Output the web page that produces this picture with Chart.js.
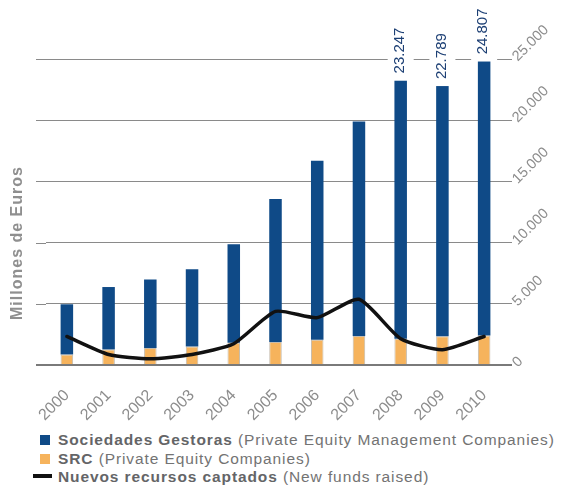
<!DOCTYPE html>
<html>
<head>
<meta charset="utf-8">
<script src="https://cdn.jsdelivr.net/npm/chart.js@4.4.0/dist/chart.umd.min.js"></script>
<style>
  body { margin: 0; background: #fff; font-family: "Liberation Sans", Arial, sans-serif; }
  #wrap { position: relative; width: 562px; height: 490px; }
  #chart { position: absolute; left: 0; top: 0; }
  .leg { position: absolute; left: 58px; font-size: 15.5px; line-height: 18px; letter-spacing: 0.9px; color: #737373; white-space: nowrap; }
  .leg b { color: #646567; }
  .sw { position: absolute; }
</style>
</head>
<body>
<div id="wrap">
  <canvas id="chart" width="562" height="425"></canvas>
  <div class="sw" style="left:40px;top:435px;width:10px;height:10px;background:#0f4a87"></div>
  <div class="leg" style="top:431px"><b>Sociedades Gestoras</b> (Private Equity Management Companies)</div>
  <div class="sw" style="left:40px;top:454px;width:10px;height:10px;background:#f6b35c"></div>
  <div class="leg" style="top:450px"><b>SRC</b> (Private Equity Companies)</div>
  <div class="sw" style="left:33px;top:474px;width:19px;height:4px;background:#111"></div>
  <div class="leg" style="top:468px"><b>Nuevos recursos captados</b> (New funds raised)</div>
</div>
<script>
// Capital gestionado por tipo de entidad, millones de euros
const years = ['2000', '2001', '2002', '2003', '2004', '2005', '2006', '2007', '2008', '2009', '2010'];
const gestoras = [4100, 5100, 5600, 6310, 8050, 11690, 14630, 17530, 21101, 20430, 22391];
const src = [860, 1270, 1380, 1520, 1820, 1870, 2060, 2360, 2146, 2359, 2416];
const nuevos = [2330, 860, 510, 860, 1740, 4380, 3870, 5370, 2150, 1250, 2330];
const labelledYears = ['2008', '2009', '2010'];
const yMax = 25000;
const yStep = 5000;

const gridColor = '#8a8a8a';
const zeroColor = '#7a7a7a';
const tickColor = '#8c8c8c';
const fontFamily = '"Liberation Sans", Arial, sans-serif';

const fmt = v => String(v).replace(/\B(?=(\d{3})+(?!\d))/g, '.');

// horizontal grid continues a little to the left of the first bar
const gridExtend = {
    id: 'gridExtend',
    beforeDatasetsDraw(chart) {
        const { ctx, chartArea, scales: { y } } = chart;
        ctx.save();
        y.ticks.forEach(t => {
            const zero = t.value === 0;
            const py = zero ? Math.round(y.getPixelForValue(t.value)) : Math.round(y.getPixelForValue(t.value)) + 0.5;
            ctx.beginPath();
            ctx.lineWidth = zero ? 2 : 1;
            ctx.strokeStyle = zero ? zeroColor : gridColor;
            ctx.moveTo(36, py);
            ctx.lineTo(chartArea.left, py);
            ctx.stroke();
        });
        ctx.restore();
    }
};

// totals written vertically above the last bars
const totalLabels = {
    id: 'totalLabels',
    afterDatasetsDraw(chart) {
        const { ctx } = chart;
        const meta = chart.getDatasetMeta(1);
        ctx.save();
        ctx.font = '15px ' + fontFamily;
        labelledYears.forEach(yr => {
            const i = years.indexOf(yr);
            const bar = meta.data[i];
            const text = fmt(gestoras[i] + src[i]);
            const w = ctx.measureText(text).width;
            const bottom = bar.y - 7;
            ctx.fillStyle = '#fff';
            ctx.fillRect(bar.x - 13, bottom - w - 3, 26, w + 10);
            ctx.save();
            ctx.translate(bar.x - 1, bottom);
            ctx.rotate(-Math.PI / 2);
            ctx.fillStyle = '#1c3f74';
            ctx.textAlign = 'left';
            ctx.textBaseline = 'middle';
            ctx.fillText(text, 0, 0);
            ctx.restore();
        });
        ctx.restore();
    }
};

const axisTitle = {
    id: 'axisTitle',
    afterDraw(chart) {
        const { ctx } = chart;
        ctx.save();
        ctx.translate(18, 243);
        ctx.rotate(-Math.PI / 2);
        ctx.font = 'bold 16px ' + fontFamily;
        ctx.letterSpacing = '1px';
        ctx.fillStyle = '#8f8f8f';
        ctx.textAlign = 'center';
        ctx.textBaseline = 'middle';
        ctx.fillText('Millones de Euros', 0, 0);
        ctx.restore();
    }
};

new Chart(document.getElementById('chart'), {
    type: 'bar',
    data: {
        labels: years,
        datasets: [
            { label: 'SRC', data: src, backgroundColor: '#f6b35c', borderColor: 'rgba(140,120,90,0.5)', borderWidth: 1, stack: 'bars', order: 1 },
            { label: 'Sociedades Gestoras', data: gestoras, backgroundColor: '#0f4a87', stack: 'bars', order: 1 },
            { type: 'line', label: 'Nuevos recursos captados', data: nuevos, borderColor: '#111', borderWidth: 3.5,
              pointRadius: 0, tension: 0.2, borderJoinStyle: 'round', borderCapStyle: 'round', stack: 'line', order: 0 }
        ]
    },
    options: {
        responsive: false,
        animation: false,
        devicePixelRatio: 1,
        layout: { padding: { top: 59, left: 46, right: 0, bottom: 0 } },
        datasets: { bar: { barPercentage: 0.3, categoryPercentage: 1.0 } },
        plugins: { legend: { display: false }, tooltip: { enabled: false } },
        scales: {
            x: {
                stacked: true,
                offset: true,
                grid: { display: false, drawTicks: false },
                border: { display: false },
                ticks: { minRotation: 45, maxRotation: 45, padding: 21, color: tickColor, font: { size: 16, family: fontFamily } },
                afterFit(axis) { axis.height = 60; }
            },
            y: {
                position: 'right',
                stacked: true,
                min: 0,
                max: yMax,
                border: { display: false },
                grid: {
                    color: ctx => ctx.tick && ctx.tick.value === 0 ? zeroColor : gridColor,
                    lineWidth: ctx => ctx.tick && ctx.tick.value === 0 ? 2 : 1,
                    tickLength: 7
                },
                ticks: {
                    stepSize: yStep,
                    minRotation: 45,
                    maxRotation: 45,
                    padding: 3,
                    color: tickColor,
                    font: { size: 14.5, family: fontFamily },
                    callback: v => fmt(v)
                },
                afterFit(axis) { axis.width = 57; }
            }
        }
    },
    plugins: [gridExtend, totalLabels, axisTitle]
});
</script>
</body>
</html>
